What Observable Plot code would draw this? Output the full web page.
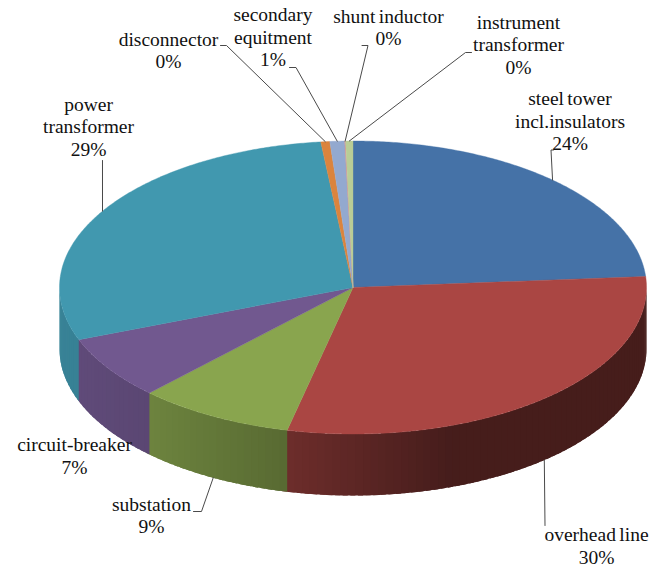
<!DOCTYPE html>
<html>
<head>
<meta charset="utf-8">
<script src="https://cdn.jsdelivr.net/npm/d3@7"></script>
<script src="https://cdn.jsdelivr.net/npm/@observablehq/plot@0.6"></script>
<style>
  html, body { margin: 0; padding: 0; background: #fff; }
  svg { display: block; }
  svg text { word-spacing: -1.5px; }
</style>
</head>
<body>
<div id="chart"></div>
<script>
// Failure share per equipment type, clockwise from twelve o'clock.
const categories = [
  "steel tower\nincl.insulators", "overhead line", "substation", "circuit-breaker",
  "power\ntransformer", "disconnector", "secondary\nequitment", "shunt inductor",
  "instrument\ntransformer"
];
const shares = [23.8, 29.8, 8.6, 7.0, 29.05, 0.49, 0.81, 0.05, 0.4];
const sliceColors = [
  "#4572A7", "#AA4643", "#89A54E", "#71588F", "#4198AF",
  "#DB843D", "#93A9CF", "#D19392", "#B9CD96"
];

// Pie geometry, in plot units with the pie centre at the origin.
const radiusX = 293.5;
const radiusY = 146.5;
const depth = 61.5;

// Label centres and leader elbows, in the same units.
const labelCentres = [
  [217, -167], [243.5, 258], [-201.5, 227.5], [-278.5, 168],
  [-264.5, -161.5], [-184.5, -237.5], [-80, -251], [35.5, -260.5], [165.5, -243.5]
];
const leaderElbows = [
  [[198, -137.5], [200.5, -137.5]],
  [[192, 238]],
  [[-151.5, 224], [-159.5, 224]],
  null,
  [[-250.5, -127]],
  [[-126.5, -242], [-132.5, -242]],
  [[-57, -220], [-63.5, -220]],
  [[15, -242], [9, -242]],
  [[112.5, -235], [118.5, -235]]
];

// Angle (degrees clockwise from the top) to a point on the rim.
const rim = (deg, drop = 0) => {
  const a = deg * Math.PI / 180;
  return [radiusX * Math.sin(a), -radiusY * Math.cos(a) + drop];
};

const total = d3.sum(shares);
const cumulative = d3.cumsum(shares);
const slices = shares.map((v, i) => ({
  index: i,
  share: v,
  start: (i ? cumulative[i - 1] : 0) / total * 360,
  end: cumulative[i] / total * 360,
  color: sliceColors[i]
}));

// Top face polygons.
const topFace = slices.flatMap(s => {
  const steps = Math.max(2, Math.ceil((s.end - s.start) / 0.5));
  const arc = d3.range(steps + 1).map(k => rim(s.start + (s.end - s.start) * k / steps));
  return [[0, 0], ...arc, [0, 0]].map(([x, y]) => ({x, y, id: s.index, color: s.color}));
});

// The wall darkens from the left of the pie towards the right, in narrow vertical strips.
// Each strip runs a little under the next one so no seams show between them.
const shade = d3.scaleLinear().domain([-293, -205, -65, 98, 293]).range([0.86, 0.8, 0.64, 0.41, 0.41]);
const wall = slices.flatMap(s => {
  const from = Math.max(s.start, 90), to = Math.min(s.end, 270);
  if (to <= from) return [];
  const n = Math.ceil((to - from) / 1.5);
  return d3.range(n).flatMap(k => {
    const a0 = from + (to - from) * k / n, a1 = from + (to - from) * (k + 1) / n;
    const over = Math.min(a1 + 1, 270);
    const c = d3.rgb(s.color);
    const f = shade(rim((a0 + a1) / 2)[0]);
    const color = d3.rgb(c.r * f, c.g * f, c.b * f).formatHex();
    const id = `${s.index}-${k}`;
    const mid = (a0 + over) / 2;
    return [rim(a0), rim(mid), rim(over), rim(over, depth), rim(mid, depth), rim(a0, depth)]
      .map(([x, y]) => ({x, y, id, color}));
  });
});

// Leader lines run from the rim at each slice's middle angle to the elbow.
const leaders = slices.flatMap((s, i) => {
  if (!leaderElbows[i]) return [];
  const mid = (s.start + s.end) / 2;
  const front = mid > 90 && mid < 270 && i < 3;
  const start = rim(mid, front ? depth : 0);
  return [start, ...leaderElbows[i]].map(([x, y]) => ({x, y, id: i}));
});

const labels = categories.map((name, i) => ({
  text: `${name}\n${Math.round(shares[i])}%`,
  x: labelCentres[i][0],
  y: labelCentres[i][1]
}));

const chart = Plot.plot({
  width: 660,
  height: 567,
  margin: 0,
  x: {domain: [-352.5, 307.5], range: [0, 660], axis: null},
  y: {domain: [-287, 280], range: [0, 567], axis: null},
  color: {type: "identity"},
  marks: [
    Plot.line(wall, {x: "x", y: "y", z: "id", fill: "color", stroke: null, curve: "linear"}),
    Plot.line(topFace, {x: "x", y: "y", z: "id", fill: "color", stroke: "color", strokeWidth: 0.4, curve: "linear"}),
    Plot.line(leaders, {x: "x", y: "y", z: "id", stroke: "#4a4a4a", strokeWidth: 1, curve: "linear"}),
    Plot.text(labels, {
      x: "x", y: "y", text: "text",
      fontFamily: "Liberation Serif", fontSize: 19.5, lineHeight: 1.15,
      fill: "#111", textAnchor: "middle", lineAnchor: "middle"
    })
  ]
});
document.getElementById("chart").append(chart);
</script>
</body>
</html>
